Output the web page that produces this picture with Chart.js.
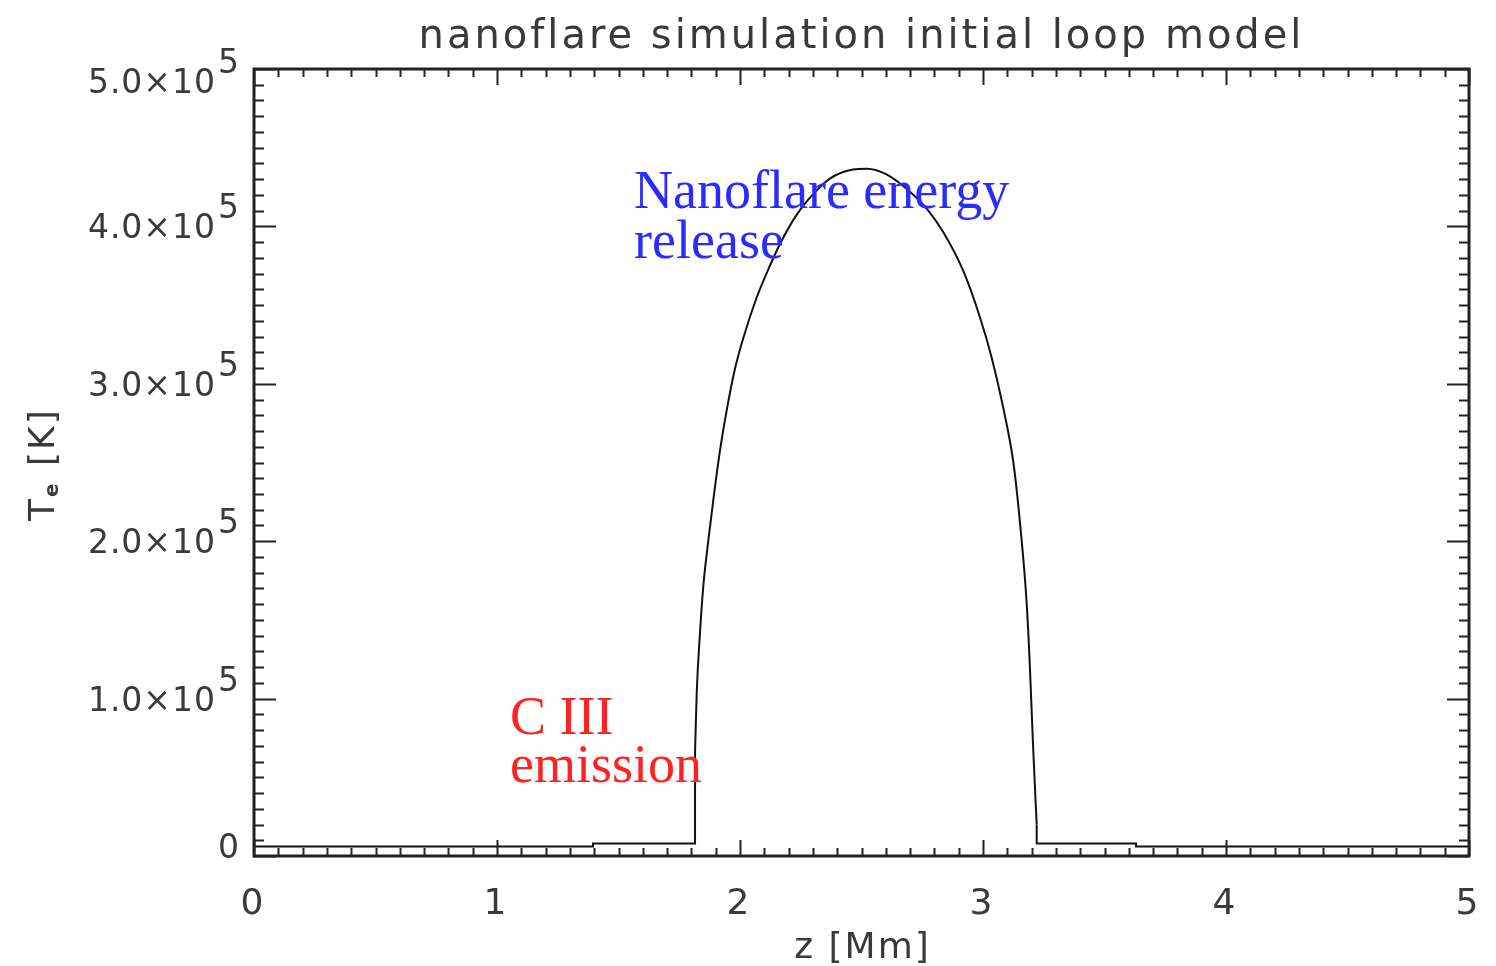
<!DOCTYPE html>
<html>
<head>
<meta charset="utf-8">
<script src="https://cdn.jsdelivr.net/npm/chart.js@4.4.0/dist/chart.umd.min.js"></script>
<style>
  html, body { margin: 0; padding: 0; background: #fff; }
  #myChart { display: block; }
</style>
</head>
<body>
<canvas id="myChart" width="1496" height="966"></canvas>
<script>
// loop position z [Mm] and electron temperature [K]
// cool footpoint left of the loop top (steps drawn straight)
var leftZ = [0, 1.395, 1.395, 1.815, 1.815];
var leftT = [6000, 6000, 8000, 8000, 66000];
// heated loop top (smooth)
var domeZ = [1.815, 1.822, 1.835, 1.849, 1.870, 1.890, 1.918, 1.945, 1.980, 2.014,
     2.069, 2.123, 2.165, 2.233, 2.300, 2.370, 2.465, 2.523, 2.605, 2.712,
     2.770, 2.838, 2.918, 2.988, 3.035, 3.083, 3.125, 3.152, 3.180, 3.193,
     3.206, 3.221];
var domeT = [66000, 104000, 141000, 171500, 201000, 226000, 258000, 283000, 310000, 329300,
     355000, 375000, 389000, 407300, 420300, 430400, 436100, 436700, 432900, 420300,
     411000, 396000, 372000, 342000, 317000, 285000, 250000, 212000, 160000, 120000,
     70000, 20000];
// cool footpoint right of the loop top
var rightZ = [3.221, 3.221, 3.630, 3.630, 5.0];
var rightT = [20000, 8000, 8000, 6000, 6000];

var xTickLabels = ['0', '1', '2', '3', '4', '5'];
var yTickMantissa = ['0', '1.0', '2.0', '3.0', '4.0', '5.0'];

var chartTitle = 'nanoflare simulation initial loop model';
var xTitle = 'z [Mm]';

function toPoints(xs, ys) {
     var pts = [];
     for (var i = 0; i < xs.length; i++) {
          pts.push({ x: xs[i], y: ys[i] });
     }
     return pts;
}

function lineSet(xs, ys, smooth) {
     return {
          data: toPoints(xs, ys),
          borderColor: '#111',
          borderWidth: 2,
          pointRadius: 0,
          fill: false,
          tension: smooth ? 0.4 : 0,
          cubicInterpolationMode: smooth ? 'monotone' : 'default'
     };
}

var idlAxes = {
     id: 'idlAxes',
     afterDraw: function (chart) {
          var ctx = chart.ctx;
          var ca = chart.chartArea;
          var xs = chart.scales.x;
          var ys = chart.scales.y;
          ctx.save();
          ctx.strokeStyle = '#222';
          ctx.lineWidth = 2;
          // minor/major ticks, pointing inward on all four sides
          for (var i = 0; i <= 50; i++) {
               var px = Math.round(xs.getPixelForValue(i / 10)) + 0.5;
               var len = (i % 10 == 0) ? 16 : 8;
               ctx.beginPath();
               ctx.moveTo(px, ca.bottom); ctx.lineTo(px, ca.bottom - len);
               ctx.moveTo(px, ca.top); ctx.lineTo(px, ca.top + len);
               ctx.stroke();
          }
          for (var j = 0; j <= 50; j++) {
               var py = Math.round(ys.getPixelForValue(j * 10000)) + 0.5;
               var ylen = (j % 10 == 0) ? 22 : 10;
               ctx.beginPath();
               ctx.moveTo(ca.left, py); ctx.lineTo(ca.left + ylen, py);
               ctx.moveTo(ca.right, py); ctx.lineTo(ca.right - ylen, py);
               ctx.stroke();
          }
          ctx.lineWidth = 3;
          ctx.strokeRect(ca.left, ca.top, ca.right - ca.left, ca.bottom - ca.top);

          // tick labels
          ctx.fillStyle = '#3a3a3a';
          ctx.font = '36px "DejaVu Sans"';
          ctx.textAlign = 'center';
          ctx.textBaseline = 'alphabetic';
          for (var k = 0; k < xTickLabels.length; k++) {
               ctx.fillText(xTickLabels[k], xs.getPixelForValue(k) - 2, 914);
          }
          ctx.font = '33px "DejaVu Sans"';
          ctx.letterSpacing = '1px';
          ctx.textAlign = 'right';
          var rightEdge = ca.left - 14;
          for (var m = 0; m < yTickMantissa.length; m++) {
               var cy = ys.getPixelForValue(m * 100000);
               cy = Math.max(ca.top + 12, Math.min(ca.bottom - 10, cy));
               if (m == 0) {
                    ctx.fillText('0', rightEdge, cy + 12);
                    continue;
               }
               var supW = ctx.measureText('5').width;
               ctx.fillText('5', rightEdge, cy - 8);
               ctx.fillText(yTickMantissa[m] + '\u00d710', rightEdge - supW - 2, cy + 12);
          }

          // title and axis titles
          ctx.font = '40px "DejaVu Sans"';
          ctx.letterSpacing = '3px';
          ctx.textAlign = 'center';
          ctx.fillText(chartTitle, (ca.left + ca.right) / 2, 48);
          ctx.font = '36px "DejaVu Sans"';
          ctx.letterSpacing = '2px';
          ctx.fillText(xTitle, (ca.left + ca.right) / 2 + 1, 958);

          ctx.save();
          ctx.translate(54, 521);
          ctx.rotate(-Math.PI / 2);
          ctx.textAlign = 'left';
          ctx.font = '36px "DejaVu Sans"';
          ctx.fillText('T', 0, 0);
          var tw = ctx.measureText('T').width;
          ctx.font = 'bold 20px "DejaVu Sans"';
          ctx.fillText('e', tw, 4);
          var ew = ctx.measureText('e').width;
          ctx.font = '36px "DejaVu Sans"';
          ctx.fillText(' [K]', tw + ew + 2, 0);
          ctx.restore();
          ctx.letterSpacing = '0px';

          // annotations
          ctx.textAlign = 'left';
          ctx.font = '54px "Liberation Serif"';
          ctx.fillStyle = '#2b2bff';
          ctx.fillText('Nanoflare energy', 634, 208);
          ctx.fillText('release', 634, 258);
          ctx.fillStyle = '#ff2222';
          ctx.fillText('C III', 510, 734);
          ctx.fillText('emission', 510, 782);
          ctx.restore();
     }
};

new Chart('myChart', {
     type: 'line',
     data: {
          datasets: [
               lineSet(leftZ, leftT, false),
               lineSet(domeZ, domeT, true),
               lineSet(rightZ, rightT, false)
          ]
     },
     options: {
          responsive: false,
          animation: false,
          layout: { padding: { left: 254, right: 27, top: 69, bottom: 110 } },
          plugins: {
               legend: { display: false },
               title: { display: false },
               tooltip: { enabled: false }
          },
          scales: {
               x: { type: 'linear', min: 0, max: 5, display: false },
               y: { type: 'linear', min: 0, max: 500000, display: false }
          }
     },
     plugins: [idlAxes]
});
</script>
</body>
</html>
